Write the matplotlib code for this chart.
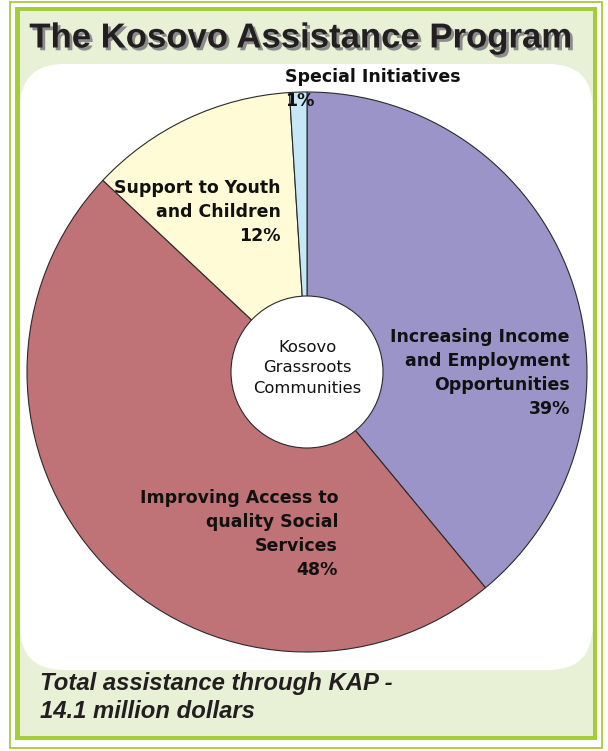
import matplotlib
matplotlib.use("Agg")
import matplotlib.pyplot as plt
import matplotlib.patheffects as pe
from matplotlib.patches import Rectangle, FancyBboxPatch, Circle

# ---- data ----
categories = ["Increasing Income\nand Employment\nOpportunities",
              "Improving Access to\nquality Social\nServices",
              "Support to Youth\nand Children",
              "Special Initiatives"]
shares = [39, 48, 12, 1]
colors = ["#9B94C9", "#BF7376", "#FFFBD6", "#C6E7F6"]
title = "The Kosovo Assistance Program"
center_text = "Kosovo\nGrassroots\nCommunities"
footer = "Total assistance through KAP -\n14.1 million dollars"

W, H = 608, 751
fig = plt.figure(figsize=(W / 100, H / 100), dpi=100)
ax = fig.add_axes([0, 0, 1, 1])
ax.set_xlim(0, W)
ax.set_ylim(0, H)
ax.axis("off")

def Y(y):
    return H - y

GREEN = "#A5CD39"
LIGHT = "#E8F0D6"

# frames
ax.add_patch(Rectangle((10, Y(747.5)), 591.5, 746, fill=False, ec=GREEN, lw=1.3, zorder=1))
ax.add_patch(Rectangle((15, Y(740)), 582, 733, fc=GREEN, ec="none", zorder=1))
ax.add_patch(Rectangle((20, Y(735.5)), 572.5, 724.5, fc=LIGHT, ec="none", zorder=2))
ax.add_patch(FancyBboxPatch((20, Y(670)), 572.5, 606,
                            boxstyle="round,pad=0,rounding_size=44",
                            fc="white", ec="none", zorder=3))

# title with shadow
ax.text(301, Y(38), title, ha="center", va="center",
        fontsize=25, fontweight="bold", family="Liberation Sans",
        color="#231F20", zorder=5,
        path_effects=[pe.SimplePatchShadow(offset=(2, -2), shadow_rgbFace="#8C8C8C", alpha=1.0),
                      pe.Normal()])

# pie
cx, cy, R = 307, Y(372), 280
wedges, _ = ax.pie(shares, colors=colors, startangle=90, counterclock=False,
                   center=(cx, cy), radius=R, frame=True,
                   wedgeprops=dict(edgecolor="#2A2A2A", linewidth=0.8))
for w in wedges:
    w.set_zorder(4)
ax.set_xlim(0, W)
ax.set_ylim(0, H)
ax.axis("off")
ax.add_patch(Circle((cx, cy), 76, fc="white", ec="#2A2A2A", lw=0.8, zorder=5))

lab = dict(fontsize=12.5, fontweight="bold", family="DejaVu Sans", color="#111111",
           linespacing=1.45, zorder=6)
ax.text(570, Y(373), categories[0] + "\n%d%%" % shares[0], ha="right", va="center", multialignment="right", **lab)
ax.text(338, Y(534), categories[1] + "\n%d%%" % shares[1], ha="right", va="center", multialignment="right", **lab)
ax.text(281, Y(212), categories[2] + "\n%d%%" % shares[2], ha="right", va="center", multialignment="right", **lab)
ax.text(285, Y(89), categories[3] + "\n%d%%" % shares[3], ha="left", va="center", multialignment="left", **lab)

ax.text(cx, Y(368), center_text, ha="center", va="center", fontsize=11.8,
        family="DejaVu Sans", color="#111111", linespacing=1.45, zorder=6)

ax.text(40, Y(697.5), footer, ha="left", va="center", fontsize=17.2,
        fontweight="bold", style="italic", family="Liberation Sans",
        color="#231F20", linespacing=1.32, zorder=6)

fig.savefig("out.png", dpi=100, facecolor="white")
